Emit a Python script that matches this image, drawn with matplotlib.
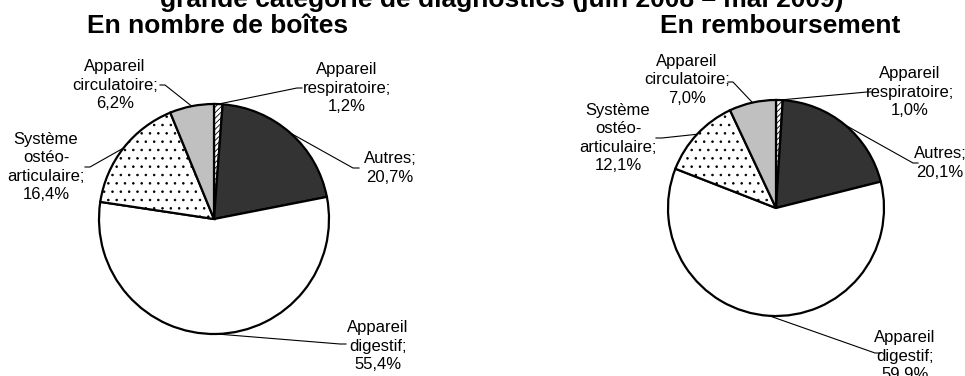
import numpy as np
import matplotlib.pyplot as plt

plt.rcParams['font.family'] = ['Liberation Sans', 'DejaVu Sans']
plt.rcParams['hatch.color'] = '#404040'
plt.rcParams['hatch.linewidth'] = 0.6

# Données
categories = ['Appareil\nrespiratoire', 'Autres', 'Appareil\ndigestif',
              'Système\nostéo-\narticulaire', 'Appareil\ncirculatoire']
boites = [1.2, 20.7, 55.4, 16.4, 6.2]
remboursement = [1.0, 20.1, 59.9, 12.1, 7.0]

couleurs = ['white', '#333333', 'white', 'white', '#c0c0c0']
motifs = ['//////', None, None, '..', None]

W, H = 965, 376


def px(x, y):
    # coordonnées pixel (origine en haut à gauche) -> coordonnées de l'axe
    return x, H - y


fig = plt.figure(figsize=(9.65, 3.76), dpi=100)
ax = fig.add_axes([0, 0, 1, 1])


def camembert(valeurs, centre, rayon, textes, coudes, titre, pos_titre):
    cx, cy = px(*centre)
    wedges, _ = ax.pie(valeurs, colors=couleurs, startangle=90, counterclock=False,
                       center=(cx, cy), radius=rayon,
                       wedgeprops=dict(edgecolor='black', linewidth=1.6))
    for w, m in zip(wedges, motifs):
        if m:
            w.set_hatch(m)
    for w, cat, v, tpos, (coude, bout) in zip(wedges, categories, valeurs, textes, coudes):
        a = np.deg2rad((w.theta1 + w.theta2) / 2)
        ex, ey = cx + rayon * np.cos(a), cy + rayon * np.sin(a)
        kx, ky = px(*coude)
        bx, by = px(*bout)
        ax.plot([ex, kx, bx], [ey, ky, by], color='black', lw=0.8)
        lab = cat + ';\n' + f'{v:.1f}'.replace('.', ',') + '%'
        ax.text(*px(*tpos), lab, ha='center', va='center', fontsize=12,
                linespacing=1.3)
    ax.text(*px(*pos_titre), titre, ha='center', va='baseline',
            fontsize=19, fontweight='bold')


# gauche : en nombre de boîtes
camembert(boites, (214, 219), 115,
          [(347, 88), (390, 168), (378, 346), (46, 167), (115, 85)],
          [((297, 88), (302, 88)), ((353, 168), (359, 168)),
           ((340, 344), (346, 344)), ((90, 167), (85, 167)),
           ((165, 85), (160, 85))],
          'En nombre de boîtes', (218, 33))

# droite : en remboursement
camembert(remboursement, (776, 208), 108,
          [(910, 92), (940, 163), (905, 356), (618, 138), (687, 80)],
          [((867, 92), (871, 92)), ((913, 163), (918, 163)),
           ((875, 353), (880, 353)), ((662, 138), (656, 138)),
           ((733, 82), (728, 82))],
          'En remboursement', (780, 33))

ax.text(*px(502, 7), 'grande catégorie de diagnostics (juin 2008 – mai 2009)',
        ha='center', va='baseline', fontsize=19, fontweight='bold')

ax.set_xlim(0, W)
ax.set_ylim(0, H)
ax.set_aspect('auto')
ax.axis('off')

fig.savefig('out.png', dpi=100)
